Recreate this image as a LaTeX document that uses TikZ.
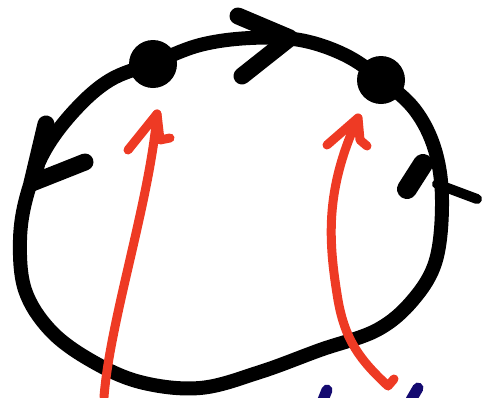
\documentclass[tikz,border=0pt]{standalone}
\usetikzlibrary{positioning}
\definecolor{penred}{HTML}{EE3A24}
\definecolor{pennavy}{HTML}{140A70}

\begin{document}
\begin{tikzpicture}[
    x=1pt, y=-1pt,
    loop/.style={line width=14pt, line cap=round, line join=round},
    tip/.style={line width=17pt, line cap=round, line join=round},
    dot/.style={circle, fill=black, inner sep=0pt, minimum size=48pt},
    pointer/.style={penred, line width=9pt, line cap=round, line join=round},
    scribble/.style={pennavy, line width=11pt, line cap=round}
]
\useasboundingbox (0,0) rectangle (487,397);

% the loop
\draw[loop] plot[smooth cycle, tension=0.6] coordinates {
    (153,63) (200,45) (250,38) (300,40) (345,55) (382,80) (415,110)
    (435,150) (442,200) (436,260) (413,300) (377,330) (320,350)
    (260,372) (200,388) (140,382) (90,360) (50,330) (25,290)
    (20,240) (27,195) (45,150) (75,110) (110,80)};

\node[dot] (p) at (153,64) {};
\node[dot] (q) at (381,80) {};

% arrow heads on the loop
\draw[tip] (238,16) -- (290,38) -- (242,76);
\draw[tip] (46,124) -- (32,183) -- (85,162);
\draw[line width=20pt, line cap=round] (407,189) -- (423,164);
\draw[line width=10pt, line cap=round] (437,184) -- (477,199);

% red pointers
\coordinate (pfoot) at (104,397);
\coordinate (ptip) at (157,114);
\coordinate (qfoot) at (394,379);
\coordinate (qtip) at (358,118);

\draw[pointer] (pfoot) .. controls (110,320) and (150,200) .. (ptip);
\draw[pointer] (128,150) -- (ptip) -- (160,140) -- (170,138);

\draw[pointer] (qfoot) -- (388,386) .. controls (360,360) and (345,340) .. (338,300)
    .. controls (328,240) and (325,190) .. (qtip);
\draw[pointer] (327,145) -- (qtip) -- (360,140) -- (367,146);

% bottom scribbles
\draw[scribble] (327,390) -- (323,400);
\draw[scribble] (418,388) -- (411,400);

\end{tikzpicture}
\end{document}
